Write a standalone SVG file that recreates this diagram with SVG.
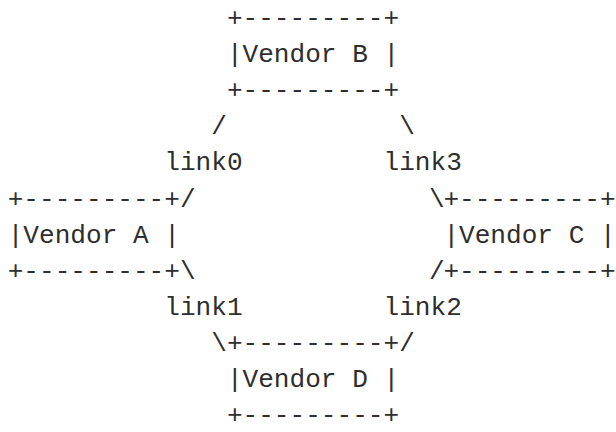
<svg xmlns="http://www.w3.org/2000/svg" width="616" height="432" viewBox="0 0 616 432">
<style>
text { font-family: "Liberation Mono", "DejaVu Sans Mono", monospace; font-size: 26.1px; fill: #2e2e2e; white-space: pre; }
</style>
<rect width="616" height="432" fill="#ffffff"/>
<g id="vendor-b">
<text x="226.9" y="26">+---------+</text>
<text x="226.9" y="62.1">|Vendor B |</text>
<text x="226.9" y="98.2">+---------+</text>
</g>
<g id="vendor-a">
<text x="7.7" y="206.5">+---------+</text>
<text x="7.7" y="242.6">|Vendor A |</text>
<text x="7.7" y="278.7">+---------+</text>
</g>
<g id="vendor-c">
<text x="443.4" y="206.5">+---------+</text>
<text x="443.4" y="242.6">|Vendor C |</text>
<text x="443.4" y="278.7">+---------+</text>
</g>
<g id="vendor-d">
<text x="226.9" y="350.9">+---------+</text>
<text x="226.9" y="387">|Vendor D |</text>
<text x="226.9" y="423.1">+---------+</text>
</g>
<g id="connectors">
<g id="link0">
<text x="211.3" y="134.3">/</text>
<text x="164.3" y="170.4">link0</text>
<text x="179.96" y="206.5">/</text>
</g>
<g id="link3">
<text x="399.2" y="134.3">\</text>
<text x="383.5" y="170.4">link3</text>
<text x="429" y="206.5">\</text>
</g>
<g id="link1">
<text x="179.96" y="278.7">\</text>
<text x="164.3" y="314.8">link1</text>
<text x="211.3" y="350.9">\</text>
</g>
<g id="link2">
<text x="429" y="278.7">/</text>
<text x="383.5" y="314.8">link2</text>
<text x="399.2" y="350.9">/</text>
</g>
</g>
</svg>
